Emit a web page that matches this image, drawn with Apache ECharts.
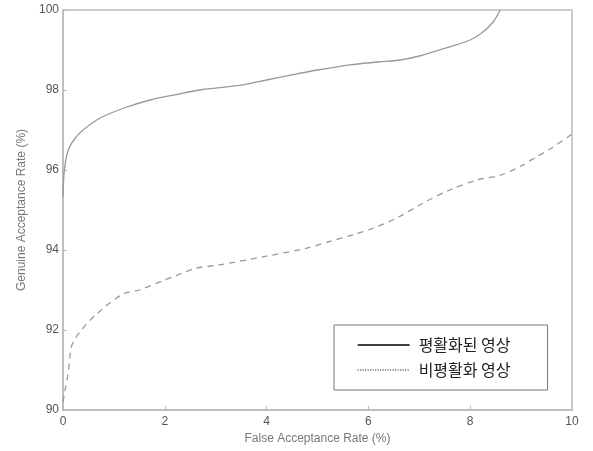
<!DOCTYPE html>
<html><head><meta charset="utf-8">
<script src="https://cdn.jsdelivr.net/npm/echarts@6/dist/echarts.min.js"></script>
<style>html,body{margin:0;padding:0;background:#fff}#c{width:593px;height:451px}</style>
</head><body><div id="c"></div>
<script>
var seriesNames = ['평활화된 영상', '비평활화 영상'];
var solidX = [0, 0.02, 0.08, 0.17, 0.35, 0.73, 1.2, 1.71, 2.2, 2.69, 3.5, 4.0, 4.5, 5.0, 5.64, 6.2, 6.62, 7.0, 7.6, 8.0, 8.25, 8.45, 8.59];
var solidY = [95.33, 95.9, 96.4, 96.67, 96.95, 97.3, 97.55, 97.75, 97.88, 98.0, 98.12, 98.25, 98.38, 98.5, 98.63, 98.7, 98.75, 98.85, 99.08, 99.25, 99.45, 99.7, 100];
var dashX = [0, 0.04, 0.1, 0.17, 0.33, 0.66, 1.18, 1.5, 2.0, 2.3, 2.63, 3.08, 3.93, 4.8, 5.2, 5.7, 6.1, 6.56, 7.07, 7.6, 8.13, 8.59, 9.0, 9.3, 9.6, 10];
var dashY = [90.2, 90.5, 90.9, 91.6, 91.95, 92.4, 92.9, 93.0, 93.25, 93.4, 93.55, 93.63, 93.83, 94.05, 94.2, 94.38, 94.55, 94.8, 95.17, 95.5, 95.75, 95.87, 96.1, 96.33, 96.55, 96.9];

function pairs(xs, ys){ return xs.map(function(x,i){ return [x, ys[i]]; }); }

var chart = echarts.init(document.getElementById('c'), null, {renderer:'canvas'});
var axisFont = {color:'#555', fontFamily:'Liberation Sans, Arial, sans-serif', fontSize:12};
chart.setOption({
  backgroundColor:'#fff',
  animation:false,
  grid:{left:63, right:21, top:10, bottom:41, show:true, borderColor:'#bbb', borderWidth:1.5},
  xAxis:{type:'value', min:0, max:10, interval:2,
    name:'False Acceptance Rate (%)', nameLocation:'middle', nameGap:22,
    nameTextStyle:{color:'#777', fontFamily:'Liberation Sans, Arial, sans-serif', fontSize:12},
    axisLine:{show:true, lineStyle:{color:'#bbb', width:1.5}},
    axisTick:{show:true, inside:true, length:4, lineStyle:{color:'#bbb'}},
    axisLabel:Object.assign({margin:6}, axisFont),
    splitLine:{show:false}},
  yAxis:{type:'value', min:90, max:100, interval:2,
    name:'Genuine Acceptance Rate (%)', nameLocation:'middle', nameGap:34,
    nameTextStyle:{color:'#777', fontFamily:'Liberation Sans, Arial, sans-serif', fontSize:12},
    axisLine:{show:true, lineStyle:{color:'#bbb', width:1.5}},
    axisTick:{show:true, inside:true, length:4, lineStyle:{color:'#bbb'}},
    axisLabel:Object.assign({margin:4}, axisFont),
    splitLine:{show:false}},
  legend:{
    left:334, top:325, orient:'vertical', itemGap:9,
    backgroundColor:'#fff', borderColor:'#777', borderWidth:1,
    padding:[12,37,12,23],
    itemWidth:52, itemHeight:16,
    textStyle:{color:'#222', fontFamily:'Noto Sans CJK KR, sans-serif', fontSize:16, padding:[0,0,0,4]},
    data:[
      {name:seriesNames[0], itemStyle:{color:'transparent', borderWidth:0, opacity:0}, lineStyle:{color:'#000', width:1.3, type:'solid', opacity:1}},
      {name:seriesNames[1], itemStyle:{color:'transparent', borderWidth:0, opacity:0}, lineStyle:{color:'#000', width:1.2, type:[1,1.5], opacity:1}}
    ]
  },
  series:[
    {name:seriesNames[0], type:'line', symbol:'none', smooth:0.3, data:pairs(solidX, solidY),
     lineStyle:{color:'#999', width:1.3}, itemStyle:{color:'#000'}},
    {name:seriesNames[1], type:'line', symbol:'none', smooth:0.3, data:pairs(dashX, dashY),
     lineStyle:{color:'#999', width:1.3, type:[6,5]}, itemStyle:{color:'#000'}}
  ]
});
</script></body></html>
